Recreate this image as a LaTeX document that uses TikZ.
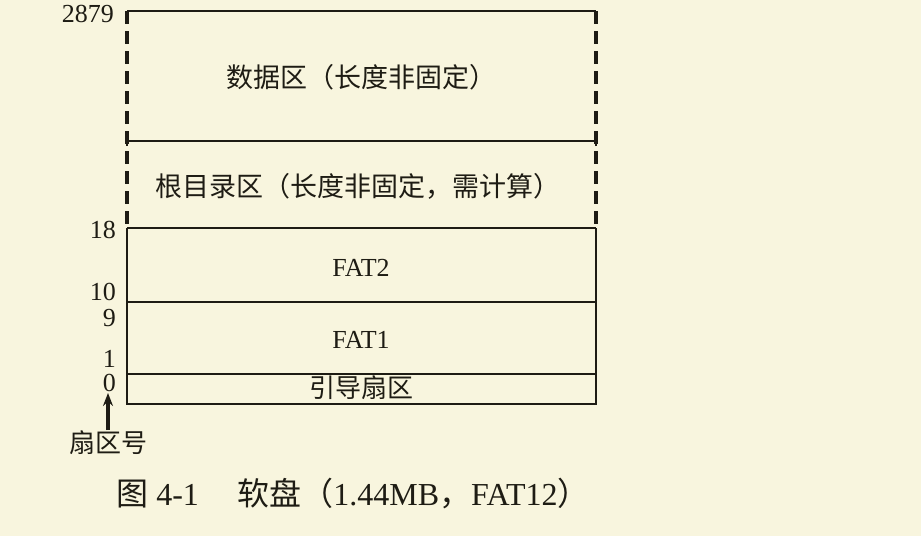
\documentclass[tikz,border=0pt]{standalone}
\usepackage{fontspec}
\setmainfont{Liberation Serif}
\newfontfamily\cjk{Noto Sans CJK SC}
\usetikzlibrary{arrows.meta}
\definecolor{bg}{HTML}{F8F5DE}
\definecolor{ink}{HTML}{1E1C14}
\tikzset{
  solidline/.style={draw=ink, line width=1.8pt},
  dashline/.style={draw=ink, line width=3.2pt, dash pattern=on 13pt off 7pt},
  lbl/.style={text=ink, font=\fontsize{27}{29}\selectfont, inner sep=0pt},
  num/.style={text=ink, font=\fontsize{26}{27}\selectfont, inner sep=0pt, anchor=east},
}
\begin{document}
\begin{tikzpicture}[x=1pt,y=-1pt]
\fill[bg] (0,0) rectangle (921,536);
\useasboundingbox (0,0) rectangle (921,536);
% corners
\coordinate (tl) at (127,11);
\coordinate (tr) at (596,11);
\coordinate (ml) at (127,141);
\coordinate (mr) at (596,141);
\coordinate (al) at (127,228);
\coordinate (ar) at (596,228);
\coordinate (bl) at (127,302);
\coordinate (br) at (596,302);
\coordinate (cl) at (127,374);
\coordinate (cr) at (596,374);
\coordinate (dl) at (127,404);
\coordinate (dr) at (596,404);
% dashed sides
\draw[dashline] (tl) -- (al);
\draw[dashline] (tr) -- (ar);
% horizontals
\draw[solidline] (tl) -- (tr);
\draw[solidline] (ml) -- (mr);
\draw[solidline] ([yshift=-5pt]ml) -- ([yshift=5pt]ml);
\draw[solidline] ([yshift=-5pt]mr) -- ([yshift=5pt]mr);
\draw[solidline] (al) -- (ar);
\draw[solidline] (bl) -- (br);
\draw[solidline] (cl) -- (cr);
\draw[solidline] (al) -- (dl) -- (dr) -- (ar);
% texts
\node[lbl] (data) at (361,77) {\cjk 数据区（长度非固定）};
\node[lbl] (root) at (358,186) {\cjk 根目录区（长度非固定，需计算）};
\node[lbl, font=\fontsize{26}{27}\selectfont] (fat2) at (361,268) {FAT2};
\node[lbl, font=\fontsize{26}{27}\selectfont] (fat1) at (361,340) {FAT1};
\node[lbl, font=\fontsize{26}{27}\selectfont] (boot) at (361,388) {\cjk 引导扇区};
% numbers
\node[num] (n2879) at (114,14) {2879};
\node[num] (n18) at (116,230) {18};
\node[num] (n10) at (116,292) {10};
\node[num] (n9) at (116,318) {9};
\node[num] (n1) at (116,359) {1};
\node[num] (n0) at (116,383) {0};
% arrow
\node[lbl, font=\fontsize{26}{27}\selectfont] (sec) at (108,443) {\cjk 扇区号};
\draw[draw=ink, line width=3.5pt, -{Stealth[length=13pt,width=10pt]}] (108,430) -- (108,393);
% caption
\node[text=ink, font=\fontsize{32}{34}\selectfont, inner sep=0pt] (cap) at (353,494) {{\cjk 图} 4-1\hspace{1.2em}{\cjk 软盘（}1.44MB{\cjk ，}FAT12{\cjk ）}};
\end{tikzpicture}
\end{document}
